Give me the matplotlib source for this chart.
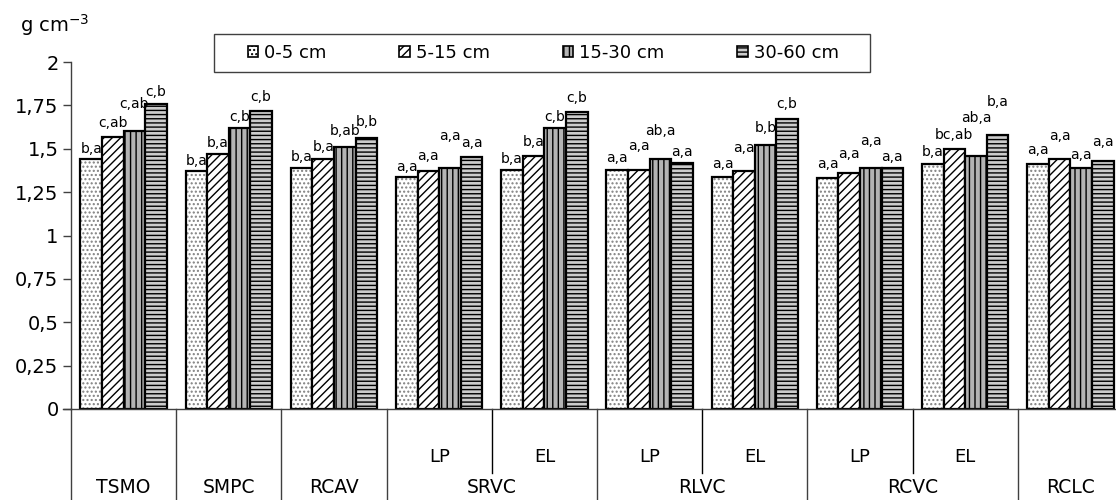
import matplotlib
matplotlib.use("Agg")
import matplotlib.pyplot as plt
from matplotlib.patches import Patch, Rectangle
import numpy as np

# slots along the category axis
sub_labels = ['', '', '', 'LP', 'EL', 'LP', 'EL', 'LP', 'EL', '']
main_labels = ['TSMO', 'SMPC', 'RCAV', 'SRVC', 'RLVC', 'RCVC', 'RCLC']
main_spans = [(0, 0), (1, 1), (2, 2), (3, 4), (5, 6), (7, 8), (9, 9)]

depths = ['0-5 cm', '5-15 cm', '15-30 cm', '30-60 cm']

d0_5 = [1.44, 1.37, 1.39, 1.34, 1.38, 1.38, 1.34, 1.33, 1.41, 1.41]
d5_15 = [1.57, 1.47, 1.44, 1.37, 1.46, 1.38, 1.37, 1.36, 1.50, 1.44]
d15_30 = [1.60, 1.62, 1.51, 1.39, 1.62, 1.44, 1.52, 1.39, 1.46, 1.39]
d30_60 = [1.76, 1.72, 1.56, 1.45, 1.71, 1.42, 1.67, 1.39, 1.58, 1.43]

lab0_5 = ['b,a', 'b,a', 'b,a', 'a,a', 'b,a', 'a,a', 'a,a', 'a,a', 'b,a', 'a,a']
lab5_15 = ['c,ab', 'b,a', 'b,a', 'a,a', 'b,a', 'a,a', 'a,a', 'a,a', 'bc,ab', 'a,a']
lab15_30 = ['c,ab', 'c,b', 'b,ab', 'a,a', 'c,b', 'ab,a', 'b,b', 'a,a', 'ab,a', 'a,a']
lab30_60 = ['c,b', 'c,b', 'b,b', 'a,a', 'c,b', 'a,a', 'c,b', 'a,a', 'b,a', 'a,a']

# how far (pixels) each label sits above its bar
lift0_5 = [10, 10, 11, 10, 11, 12, 13, 14, 12, 14]
lift5_15 = [14, 11, 12, 15, 14, 24, 23, 19, 14, 23]
lift15_30 = [27, 11, 16, 32, 11, 28, 17, 27, 38, 13]
lift30_60 = [12, 14, 16, 14, 14, 11, 15, 11, 33, 19]

values = [d0_5, d5_15, d15_30, d30_60]
labels = [lab0_5, lab5_15, lab15_30, lab30_60]
lifts = [lift0_5, lift5_15, lift15_30, lift30_60]

hatches = ['....', '////', '|||', '----']
hatch_cols = ['#808080', 'black', 'black', 'black']
faces = ['white', 'white', '#b4b4b4', '#cccccc']

plt.rcParams['hatch.linewidth'] = 1.0
plt.rcParams['font.family'] = ['DejaVu Sans']

fig = plt.figure(figsize=(11.16, 5.0), dpi=100)
ax = fig.add_axes([71 / 1116, 1 - 409 / 500, 1052 / 1116, 347 / 500])

x = np.arange(len(sub_labels))
w = 0.205
for j in range(4):
    pos = x + (j - 1.5) * w
    ax.bar(pos, values[j], w, color=faces[j], hatch=hatches[j],
           edgecolor=hatch_cols[j], linewidth=0)
    ax.bar(pos, values[j], w, color='none', edgecolor='black', linewidth=1.6)
    for p, v, t, l in zip(pos, values[j], labels[j], lifts[j]):
        ax.annotate(t, (p, v), xytext=(0, l), textcoords='offset pixels',
                    ha='center', va='center', fontsize=10)

ax.set_xlim(-0.5, len(sub_labels) - 0.5)
ax.set_ylim(0, 2)
ticks = np.arange(0, 2.01, 0.25)
ax.set_yticks(ticks)
ax.set_yticklabels(['0', '0,25', '0,5', '0,75', '1', '1,25', '1,5', '1,75', '2'])
ax.tick_params(axis='y', length=6, width=1, pad=3, labelsize=14, color='#404040')
ax.set_xticks([])
for s in ['top', 'right']:
    ax.spines[s].set_visible(False)
for s in ['left', 'bottom']:
    ax.spines[s].set_color('#404040')
    ax.spines[s].set_linewidth(1)

# category axis below the plot
tr = ax.get_xaxis_transform()
ax.plot([-0.5 - 0.08, -0.5], [0, 0], transform=tr, color='#404040', lw=1, clip_on=False)
for i, t in enumerate(sub_labels):
    if t:
        ax.text(i, -0.138, t, transform=tr, ha='center', va='center', fontsize=13)
for (a, b), t in zip(main_spans, main_labels):
    ax.text((a + b) / 2, -0.225, t, transform=tr, ha='center', va='center', fontsize=13.5)
    ax.plot([a - 0.5, a - 0.5], [0, -0.27], transform=tr, color='#404040', lw=1, clip_on=False)
    for k in range(a + 1, b + 1):
        ax.plot([k - 0.5, k - 0.5], [0, -0.183], transform=tr, color='black', lw=1, clip_on=False)
ax.plot([9.5, 9.5], [0, -0.27], transform=tr, color='#404040', lw=1, clip_on=False)

fig.text(20 / 1116, 1 - 25 / 500, 'g cm$^{-3}$', fontsize=14, ha='left', va='center')

# legend box drawn separately so its padding matches
fig.patches.append(Rectangle((214 / 1116, 1 - 72 / 500), (870 - 214) / 1116, 38 / 500,
                             transform=fig.transFigure, facecolor='white',
                             edgecolor='#404040', linewidth=1))
handles = [Patch(facecolor=faces[j], hatch=hatches[j], edgecolor='black', linewidth=1.2)
           for j in range(4)]
leg = fig.legend(handles, depths, ncol=4, loc='center',
                 bbox_to_anchor=(543 / 1116, 1 - 53 / 500), fontsize=13,
                 frameon=False, handlelength=0.6, handleheight=0.6,
                 handletextpad=0.3, columnspacing=4.05, borderpad=0.2)

fig.savefig('out.png', dpi=100)
